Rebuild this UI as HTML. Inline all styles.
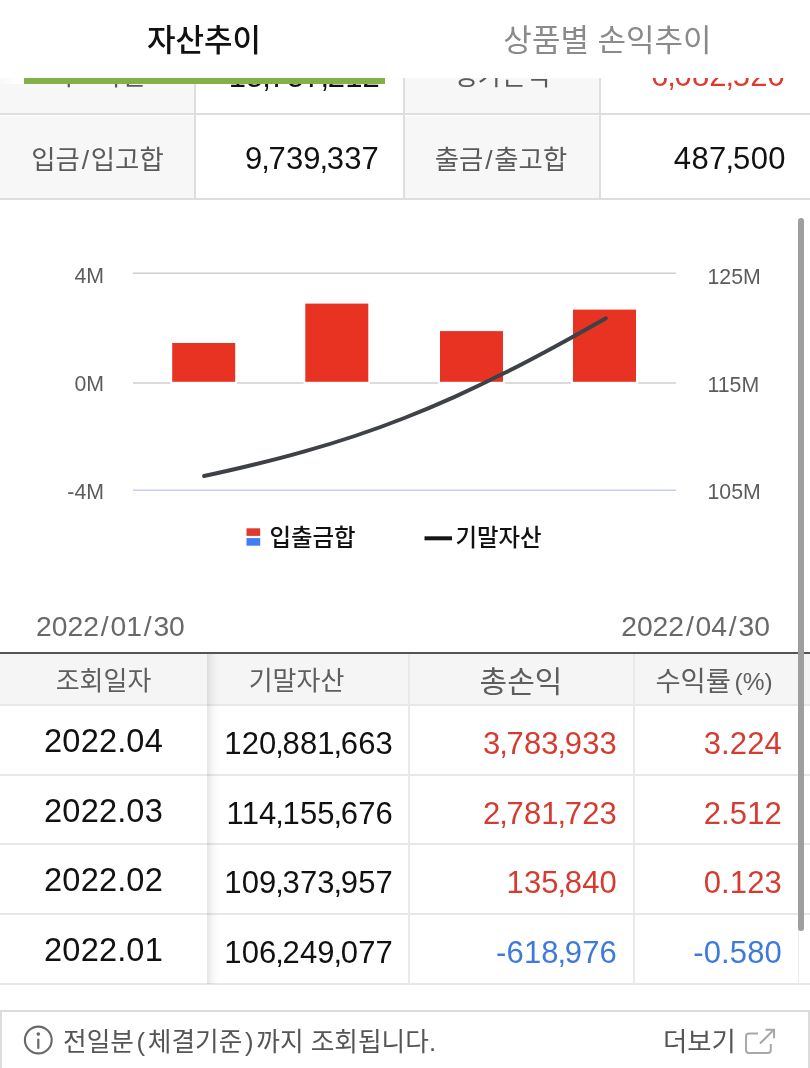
<!DOCTYPE html>
<html lang="ko">
<head>
<meta charset="utf-8">
<title>자산추이</title>
<style>
html,body{margin:0;padding:0;}
body{width:810px;height:1068px;position:relative;overflow:hidden;background:#fff;
 font-family:"Liberation Sans","Noto Sans CJK KR",sans-serif;color:#111;}
.abs{position:absolute;white-space:nowrap;line-height:1;}
/* summary table */
.sum{position:absolute;left:0;top:30px;width:810px;height:170px;background:#fff;}
.cell{position:absolute;box-sizing:border-box;}
.lab{background:#f7f7f7;color:#5a5a5a;font-size:26.4px;text-align:center;padding-top:1.5px;}
.val{background:#fff;color:#111;font-size:31px;letter-spacing:.15px;text-align:right;}
.c{margin:0 -1.4px 0 -1.3px}
.s{margin:0 1.8px}
.p{margin:0 2.7px}
.hline{position:absolute;left:0;width:810px;height:2px;background:#dedede;}
.vline{position:absolute;width:2px;background:#dedede;}
/* tabs */
.tabs{position:absolute;left:0;top:0;width:810px;height:78px;background:#fff;}
.tab{position:absolute;top:0;height:79px;line-height:82px;text-align:center;font-size:31px;}
.gbar{position:absolute;left:24px;top:78px;width:361px;height:6px;background:#84b04a;}
/* grid table */
.th{position:absolute;top:654px;height:51px;line-height:55px;text-align:center;color:#5e5e5e;font-size:26px;}
.td{position:absolute;height:70px;line-height:70px;font-size:31px;letter-spacing:.15px;white-space:nowrap;}
.red{color:#d63b2f}.blue{color:#3e7adc}
</style>
</head>
<body>

<!-- summary rows (scrolled under the tab header) -->
<div class="sum">
  <div class="cell lab" style="left:0;top:0;width:195px;height:84px;line-height:88px;">기초자산</div>
  <div class="cell val" style="left:197px;top:0;width:207px;height:84px;line-height:93px;padding-right:24px;">15<span class="c">,</span>757<span class="c">,</span>212</div>
  <div class="cell lab" style="left:405px;top:0;width:194px;height:84px;line-height:88px;">평가손익</div>
  <div class="cell val red" style="left:601px;top:0;width:209px;height:84px;line-height:91px;padding-right:25px;color:#e03a2e">6<span class="c">,</span>082<span class="c">,</span>520</div>

  <div class="cell lab" style="left:0;top:86px;width:195px;height:82px;line-height:84px;">입금<span class="s">/</span>입고합</div>
  <div class="cell val" style="left:197px;top:86px;width:207px;height:82px;line-height:86px;padding-right:25px;">9<span class="c">,</span>739<span class="c">,</span>337</div>
  <div class="cell lab" style="padding-right:2px;left:405px;top:86px;width:194px;height:82px;line-height:84px;">출금<span class="s">/</span>출고합</div>
  <div class="cell val" style="left:601px;top:86px;width:209px;height:82px;line-height:86px;padding-right:24px;letter-spacing:.4px;">487<span class="c">,</span>500</div>

  <div class="hline" style="top:83px"></div>
  <div class="hline" style="top:168px"></div>
  <div class="vline" style="left:194px;top:0;height:168px"></div>
  <div class="vline" style="left:403px;top:0;height:168px"></div>
  <div class="vline" style="left:599px;top:0;height:168px"></div>
</div>

<!-- tabs -->
<div class="tabs">
  <div class="tab" style="left:0;width:408px;color:#111;font-weight:500;">자산추이</div>
  <div class="tab" style="left:405px;width:405px;color:#8a8a8a;">상품별 손익추이</div>
</div>
<div class="abs" style="left:0;top:78px;width:24px;height:6px;background:linear-gradient(to right,#f8f8f8,#fff 70%);"></div>
<div class="gbar"></div>

<!-- chart -->
<svg class="abs" style="left:0;top:200px" width="810" height="420" viewBox="0 200 810 420" font-family="'Liberation Sans','Noto Sans CJK KR',sans-serif">
  <g stroke="#cfcfcf" stroke-width="1.6">
    <line x1="133" y1="273.300" x2="676" y2="273.300"/>
    <line x1="133" y1="383" x2="676" y2="383"/>
    <line x1="133" y1="490.200" x2="676" y2="490.200" stroke="#c8cdea"/>
  </g>
  <g fill="#fff">
    <rect x="170.4" y="341.5" width="66.6" height="42.8"/>
    <rect x="303.5" y="302.1" width="66.6" height="82.2"/>
    <rect x="438.2" y="329.6" width="66.6" height="54.7"/>
    <rect x="571.2" y="308.1" width="66.6" height="76.2"/>
  </g>
  <g fill="#e83323">
    <rect x="172.2" y="343.0" width="63" height="38.8"/>
    <rect x="305.3" y="303.6" width="63" height="78.2"/>
    <rect x="440.0" y="331.1" width="63" height="50.7"/>
    <rect x="573.0" y="309.6" width="63" height="72.2"/>
  </g>
  <path d="M204.1,476.0 C220.8,472.4 237.6,468.6 254.3,464.5 C271.1,460.5 287.8,456.2 304.5,451.4 C321.3,446.7 338.0,441.6 354.8,436.0 C371.5,430.4 388.3,424.3 405.0,417.7 C421.7,411.2 438.5,404.1 455.2,396.6 C472.0,389.0 488.7,381.0 505.4,372.6 C522.2,364.2 538.9,355.3 555.7,346.2 C572.4,337.1 589.2,327.7 605.9,318.2" fill="none" stroke="#3e4146" stroke-width="3.9" stroke-linecap="round"/>
  <g font-size="21.300" fill="#5c5c5c">
    <text x="104" y="283.200" text-anchor="end">4M</text>
    <text x="104" y="390.800" text-anchor="end">0M</text>
    <text x="104" y="498.500" text-anchor="end">-4M</text>
    <text x="707.500" y="283.500">125M</text>
    <text x="707.500" y="391.500">115M</text>
    <text x="707.500" y="499.300">105M</text>
  </g>
  <rect x="246.500" y="528.300" width="13.700" height="7.600" fill="#e03b30"/>
  <rect x="246.500" y="538.100" width="13.700" height="7.600" fill="#427cf5"/>
  <text x="269.500" y="545.500" font-size="23.400" font-weight="500" fill="#111">입출금합</text>
  <line x1="424.500" y1="538.300" x2="452" y2="538.300" stroke="#151515" stroke-width="4"/>
  <text x="455.500" y="545.500" font-size="23.400" font-weight="500" fill="#111">기말자산</text>
</svg>

<!-- date range -->
<div class="abs" style="left:36px;top:612px;font-size:28.3px;color:#696969;">2022<span class="s">/</span>01<span class="s">/</span>30</div>
<div class="abs" style="right:40px;top:612px;font-size:28.3px;color:#696969;">2022<span class="s">/</span>04<span class="s">/</span>30</div>

<!-- grid header -->
<div class="abs" style="left:0;top:654px;width:810px;height:51px;background:#f5f5f5;"></div>
<div class="abs" style="left:0;top:652px;width:810px;height:2px;background:#555;"></div>
<div class="th" style="left:0;width:207px;">조회일자</div>
<div class="th" style="left:197px;width:199px;">기말자산</div>
<div class="th" style="left:409px;width:224px;font-size:30px;">총손익</div>
<div class="th" style="left:632px;width:164px;font-size:27.4px;">수익률<span style="font-size:24.500px;margin-left:3.500px;position:relative;top:-1px;">(%)</span></div>

<!-- rows -->
<div class="td" style="left:0;top:706px;width:207px;text-align:center;font-size:32.6px;">2022.04</div>
<div class="td" style="left:209px;top:706px;width:184px;text-align:right;line-height:75px;">120<span class="c">,</span>881<span class="c">,</span>663</div>
<div class="td red" style="left:409px;top:706px;width:208px;text-align:right;line-height:75px;">3<span class="c">,</span>783<span class="c">,</span>933</div>
<div class="td red" style="left:634px;top:706px;width:148px;text-align:right;line-height:75px;">3.224</div>

<div class="td" style="left:0;top:776px;width:207px;text-align:center;font-size:32.6px;">2022.03</div>
<div class="td" style="left:209px;top:776px;width:184px;text-align:right;line-height:75px;">114<span class="c">,</span>155<span class="c">,</span>676</div>
<div class="td red" style="left:409px;top:776px;width:208px;text-align:right;line-height:75px;">2<span class="c">,</span>781<span class="c">,</span>723</div>
<div class="td red" style="left:634px;top:776px;width:148px;text-align:right;line-height:75px;">2.512</div>

<div class="td" style="left:0;top:845px;width:207px;text-align:center;font-size:32.6px;">2022.02</div>
<div class="td" style="left:209px;top:845px;width:184px;text-align:right;line-height:75px;">109<span class="c">,</span>373<span class="c">,</span>957</div>
<div class="td red" style="left:409px;top:845px;width:208px;text-align:right;line-height:75px;">135<span class="c">,</span>840</div>
<div class="td red" style="left:634px;top:845px;width:148px;text-align:right;line-height:75px;">0.123</div>

<div class="td" style="left:0;top:915px;width:207px;text-align:center;font-size:32.6px;">2022.01</div>
<div class="td" style="left:209px;top:915px;width:184px;text-align:right;line-height:75px;">106<span class="c">,</span>249<span class="c">,</span>077</div>
<div class="td blue" style="left:409px;top:915px;width:208px;text-align:right;line-height:75px;">-618<span class="c">,</span>976</div>
<div class="td blue" style="left:634px;top:915px;width:148px;text-align:right;line-height:75px;">-0.580</div>

<!-- grid lines -->
<div class="hline" style="top:704px;background:#e8e8e8"></div>
<div class="hline" style="top:774px;background:#e8e8e8"></div>
<div class="hline" style="top:843px;background:#e8e8e8"></div>
<div class="hline" style="top:913px;background:#e8e8e8"></div>
<div class="hline" style="top:983px;background:#e8e8e8"></div>
<div class="vline" style="left:207px;top:654px;height:330px;width:12px;background:linear-gradient(to right,rgba(0,0,0,.10),rgba(0,0,0,.035) 45%,rgba(0,0,0,0));"></div>
<div class="vline" style="left:408px;top:654px;height:330px;background:#e9e9e9"></div>
<div class="vline" style="left:633px;top:654px;height:330px;background:#e9e9e9"></div>
<div class="vline" style="left:798px;top:654px;height:330px;width:1px;background:#ececec"></div>

<!-- scrollbar -->
<div class="abs" style="left:798px;top:218px;width:6px;height:713px;border-radius:3px;background:#9e9e9e;"></div>

<!-- notice -->
<div class="abs" style="left:0;top:1010px;width:810px;height:70px;box-sizing:border-box;border:2px solid #dcdcdc;background:#fff;"></div>
<svg class="abs" style="left:22px;top:1024px" width="34" height="34" viewBox="22 1024 34 34">
  <circle cx="38.300" cy="1040" r="13.400" fill="none" stroke="#686868" stroke-width="2.100"/>
  <circle cx="38.300" cy="1034.100" r="1.800" fill="#686868"/>
  <line x1="38.300" y1="1039.500" x2="38.300" y2="1048" stroke="#686868" stroke-width="2.200" stroke-linecap="round"/>
</svg>
<div class="abs" style="left:63px;top:1030px;font-size:25.700px;color:#555;">전일분<span class="p">(</span>체결기준<span class="p">)</span>까지 조회됩니다.</div>
<div class="abs" style="left:663px;top:1029px;font-size:26.4px;color:#555;">더보기</div>
<svg class="abs" style="left:742px;top:1026px" width="36" height="32" viewBox="742 1026 36 32">
  <path d="M758,1033.600 H749 Q746,1033.600 746,1036.600 V1050 Q746,1053 749,1053 H767.800 Q770.800,1053 770.800,1050 V1044" fill="none" stroke="#a8a8a8" stroke-width="2"/>
  <path d="M760,1043.500 L773.600,1030 M765.500,1029.700 H774 V1038.200" fill="none" stroke="#a8a8a8" stroke-width="2"/>
</svg>
</body>
</html>
